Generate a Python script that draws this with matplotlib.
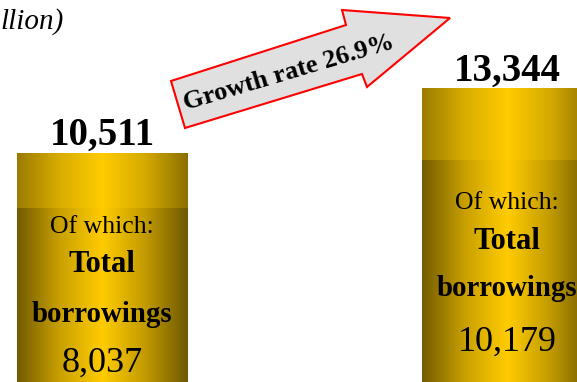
import numpy as np
import matplotlib.pyplot as plt
from matplotlib.patches import Polygon
from matplotlib.colors import LinearSegmentedColormap

plt.rcParams['font.family'] = ['Liberation Serif', 'DejaVu Serif']

# data
years = ["2021", "2022"]
totals = [10511, 13344]
borrowings = [8037, 10179]
total_labels = ["10,511", "13,344"]
borrow_labels = ["8,037", "10,179"]
growth_text = "Growth rate 26.9%"

W, H = 577, 382
fig = plt.figure(figsize=(W / 100, H / 100), dpi=100)
ax = fig.add_axes([0, 0, 1, 1])
ax.axis('off')

bar_w = 0.42
top_cmap = LinearSegmentedColormap.from_list(
    "top", ["#9a7c00", "#d9ad00", "#ffcc00", "#d5aa00", "#8c7000"])
low_cmap = LinearSegmentedColormap.from_list(
    "low", ["#735c00", "#c9a000", "#ffcc00", "#c29b00", "#6e5800"])
grad = np.linspace(0, 1, 256).reshape(1, -1)

for i in range(len(years)):
    x0, x1 = i - bar_w / 2, i + bar_w / 2
    # upper (rest of total) part
    ax.imshow(grad, cmap=top_cmap, aspect='auto',
              extent=(x0, x1, borrowings[i], totals[i]), zorder=1)
    # lower (borrowings) part
    ax.imshow(grad, cmap=low_cmap, aspect='auto',
              extent=(x0, x1, 0, borrowings[i]), zorder=1)
    ax.text(i, totals[i] + 360, total_labels[i], ha='center', va='baseline',
            fontsize=28, fontweight='bold', color='black')

ax.set_xlim(-0.252, 1.173)
ax.set_ylim(373, 17284)

# text inside bars (pixel y positions from top)
inner_y = [[227, 265, 315, 363], [203, 242, 288, 342]]
tr = ax.get_xaxis_transform()
for i in range(len(years)):
    ys = [1 - y / H for y in inner_y[i]]
    ax.text(i, ys[0], "Of which:", transform=tr, ha='center', va='center',
            fontsize=18.5)
    ax.text(i, ys[1], "Total", transform=tr, ha='center', va='center',
            fontsize=22, fontweight='bold')
    ax.text(i, ys[2], "borrowings", transform=tr, ha='center', va='center',
            fontsize=20.8, fontweight='bold')
    ax.text(i, ys[3], borrow_labels[i], transform=tr, ha='center',
            va='center', fontsize=26)

# growth arrow
arrow_px = [(185, 128), (171, 81), (346, 25), (342, 10), (450, 18),
            (367, 87), (362, 74)]
arrow_pts = [(x / W, 1 - y / H) for x, y in arrow_px]
fig.patches.append(Polygon(arrow_pts, closed=True, facecolor='#e0e0e0',
                           edgecolor='#ff0000', linewidth=1.5,
                           transform=fig.transFigure, zorder=3))
fig.text(289 / W, 1 - 73 / H, growth_text, rotation=16.5, ha='center',
         va='center', fontsize=19, fontweight='bold', zorder=4,
         rotation_mode='anchor')

# unit label (only its end is visible at the left edge)
fig.text(0, 1 - 22 / H, "llion)", ha='left', va='center',
         fontsize=21, style='italic')

fig.savefig("out.png", dpi=100)
